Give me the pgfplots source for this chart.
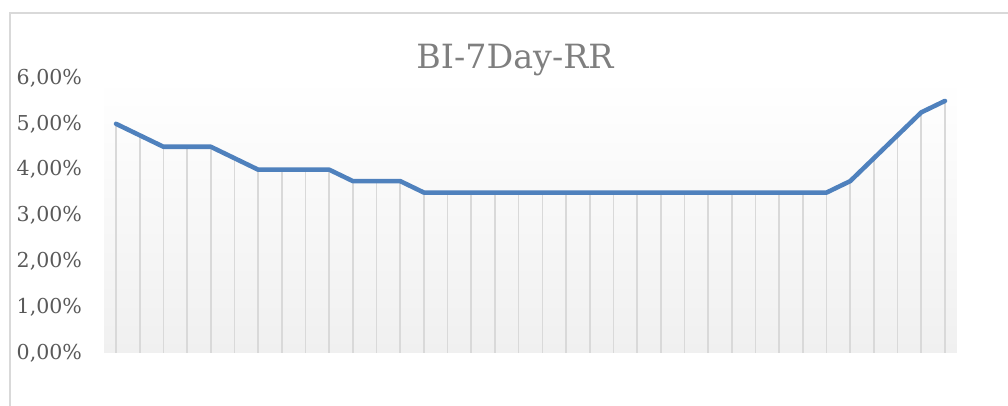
\documentclass[border=0pt]{standalone}
\usepackage{pgfplots}
\pgfplotsset{compat=1.18}
\usepackage{fontspec}
\setmainfont{DejaVu Serif}
\definecolor{lineblue}{HTML}{4F81BD}
\definecolor{dropgray}{HTML}{D9D9D9}
\definecolor{labgray}{HTML}{595959}
\definecolor{titlegray}{HTML}{7F7F7F}
\definecolor{framegray}{HTML}{D9D9D9}
\definecolor{bggray}{HTML}{F0F0F0}
\pgfplotstableread{
x y
0 5.00
1 4.75
2 4.50
3 4.50
4 4.50
5 4.25
6 4.00
7 4.00
8 4.00
9 4.00
10 3.75
11 3.75
12 3.75
13 3.50
14 3.50
15 3.50
16 3.50
17 3.50
18 3.50
19 3.50
20 3.50
21 3.50
22 3.50
23 3.50
24 3.50
25 3.50
26 3.50
27 3.50
28 3.50
29 3.50
30 3.50
31 3.75
32 4.25
33 4.75
34 5.25
35 5.50
}\rates
\begin{document}
\begin{tikzpicture}
\useasboundingbox (0,0) rectangle (756pt,304.5pt);
\draw[framegray, line width=1pt] (7.5pt,-2pt) -- (7.5pt,294.75pt) -- (758pt,294.75pt);
\begin{axis}[
  at={(78.15pt,39.75pt)}, anchor=south west,
  scale only axis, width=639.45pt, height=206.25pt,
  xmin=-0.5, xmax=35.5, ymin=0, ymax=6,
  axis line style={draw=none},
  xtick=\empty,
  ytick={0,1,2,3,4,5,6},
  yticklabels={{0,00\%},{1,00\%},{2,00\%},{3,00\%},{4,00\%},{5,00\%},{6,00\%}},
  major tick length=0pt,
  yticklabel style={anchor=east, inner sep=0pt, xshift=-16.5pt, text=labgray, font=\fontsize{15.4}{18}\selectfont},
  axis background/.style={top color=white, bottom color=bggray},
  clip=false,
]
\addplot[ycomb, dropgray, line width=1.25pt, no marks] table[x=x,y=y] {\rates};
\addplot[lineblue, line width=3.4pt, line join=round, line cap=round, no marks] table[x=x,y=y] {\rates};
\end{axis}
\node[anchor=base, inner sep=0pt, text=titlegray, font=\fontsize{25}{30}\selectfont] at (386.25pt,252.75pt) {BI-7Day-RR};
\end{tikzpicture}
\end{document}
